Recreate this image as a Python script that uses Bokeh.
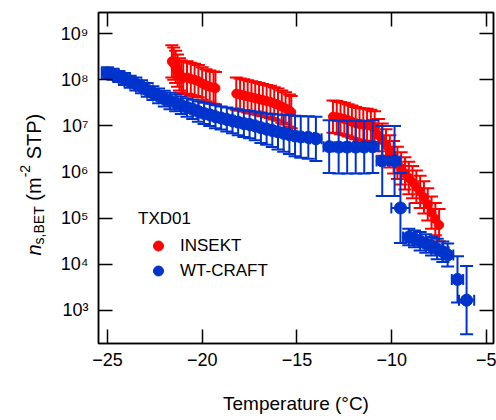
import math
import numpy as np
from bokeh.plotting import figure
from bokeh.layouts import row
from bokeh.models import (ColumnDataSource, Whisker, TeeHead, FixedTicker, LinearAxis, LogAxis,
                          CustomJSTickFormatter, Legend, LegendItem, Label, Range1d)
from bokeh.embed import file_html
from bokeh.resources import INLINE

FONT = "Liberation Sans"
RED = "#FF0000"
BLUE = "#0033CC"

# ---------------- data ----------------
insekt_T = [-21.6, -21.5, -21.4, -21.3, -21.2, -21.1, -21.0, -20.8, -20.6, -20.4, -20.2, -20.0,
            -19.8, -19.6, -19.4, -19.3,
            -18.2, -18.0, -17.8, -17.6, -17.4, -17.2, -17.0, -16.8, -16.6, -16.4, -16.2, -16.0,
            -15.8, -15.6, -15.4, -15.3,
            -13.1, -12.9, -12.7, -12.5, -12.3, -12.1, -11.9, -11.7, -11.5, -11.3, -11.1, -10.9,
            -10.7, -10.5, -10.3, -10.1, -9.9, -9.7, -9.5, -9.3, -9.1, -8.9, -8.7, -8.5, -8.3,
            -8.1, -7.9, -7.7, -7.5]
insekt_log_ns = [8.40, 8.35, 8.28, 8.20, 8.12, 8.07, 8.04, 8.05, 8.02, 8.00, 7.97, 7.92,
                 7.88, 7.85, 7.83, 7.82,
                 7.70, 7.68, 7.66, 7.64, 7.62, 7.60, 7.58, 7.56, 7.54, 7.52, 7.49, 7.46,
                 7.42, 7.38, 7.33, 7.30,
                 7.20, 7.19, 7.17, 7.15, 7.12, 7.09, 7.06, 7.04, 7.03, 7.02, 7.00, 6.97,
                 6.80, 6.70, 6.58, 6.45, 6.32, 6.20, 6.08, 5.97, 5.87, 5.78, 5.68, 5.57, 5.45,
                 5.30, 5.12, 4.98, 4.85]
insekt_log_err = [0.35] * 16 + [0.35] * 16 + [0.35] * 12 + [0.35] * 17

wtcraft_T = [-25.0, -24.7, -24.4, -24.1, -23.8, -23.5, -23.2, -22.9, -22.6, -22.3, -22.0, -21.7,
             -21.4, -21.1, -20.8, -20.5, -20.2, -19.9, -19.6, -19.3, -19.0, -18.7, -18.4, -18.1,
             -17.8, -17.5, -17.2, -16.9, -16.6, -16.3, -16.0, -15.7, -15.4, -15.1, -14.8, -14.4,
             -14.0, -13.3, -12.8, -12.35, -11.9, -11.45, -11.0, -10.5, -9.85, -9.54,
             -9.1, -8.8, -8.5, -8.2, -7.9, -7.6, -7.3, -7.05, -6.53, -6.05]
wtcraft_log_ns = [8.15, 8.12, 8.07, 8.02, 7.96, 7.91, 7.85, 7.78, 7.71, 7.65, 7.59, 7.54,
                  7.50, 7.45, 7.40, 7.36, 7.31, 7.27, 7.24, 7.20, 7.17, 7.14, 7.11, 7.08,
                  7.05, 7.03, 7.00, 6.96, 6.93, 6.90, 6.87, 6.84, 6.81, 6.78, 6.76, 6.75,
                  6.72, 6.55, 6.54, 6.54, 6.54, 6.54, 6.55, 6.24, 6.24, 5.22,
                  4.59, 4.55, 4.50, 4.45, 4.39, 4.33, 4.27, 4.20, 3.67, 3.22]
wtcraft_log_err = [0.12, 0.12, 0.12, 0.13, 0.13, 0.14, 0.14, 0.15, 0.15, 0.16, 0.17, 0.18,
                   0.18, 0.19, 0.20, 0.21, 0.22, 0.23, 0.24, 0.25, 0.25, 0.26, 0.27, 0.28,
                   0.29, 0.30, 0.31, 0.33, 0.34, 0.36, 0.38, 0.40, 0.42, 0.44, 0.45, 0.46,
                   0.48, 0.57, 0.57, 0.57, 0.57, 0.57, 0.57, 0.76, 0.76, 0.76,
                   0.18, 0.18, 0.20, 0.20, 0.20, 0.22, 0.22, 0.25, 0.50, 0.74]
wtcraft_T_err = [0.3] * 45 + [0.48] + [0.3] * 9 + [0.4]

x_ticks = [-25, -20, -15, -10, -5]
y_ticks = [1e3, 1e4, 1e5, 1e6, 1e7, 1e8, 1e9]
legend_title = "TXD01"
series_names = ["INSEKT", "WT-CRAFT"]

LABEL_W = 50  # width of the strip holding the y-axis title

# ---------------- main figure ----------------
p = figure(width=496 - LABEL_W, height=420, output_backend="svg", toolbar_location=None,
           y_axis_type="log", x_range=(-25.47, -4.63), y_range=(10 ** 2.28, 10 ** 9.46),
           min_border_left=98 - LABEL_W, min_border_right=3, min_border_top=12,
           min_border_bottom=77)
p.background_fill_color = "white"
p.border_fill_color = "white"
p.grid.visible = False
p.outline_line_color = "black"
p.outline_line_width = 1.5

sup_code = """
const sup = {'0':'\u2070','1':'\u00b9','2':'\u00b2','3':'\u00b3','4':'\u2074','5':'\u2075',
             '6':'\u2076','7':'\u2077','8':'\u2078','9':'\u2079','-':'\u207b'};
const e = Math.round(Math.log10(tick));
return '10' + String(e).split('').map(c => sup[c]).join('');
"""


def style_axis(ax):
    ax.axis_line_color = "black"
    ax.axis_line_width = 1.5
    ax.major_tick_in = 14
    ax.major_tick_out = 0
    ax.major_tick_line_width = 1.5
    ax.major_tick_line_color = "black"
    ax.minor_tick_line_color = None
    ax.major_label_text_font = FONT
    ax.major_label_text_color = "black"
    ax.major_label_text_font_size = "18px"


xax = p.xaxis[0]
xax.ticker = FixedTicker(ticks=x_ticks)
style_axis(xax)
xax.major_label_standoff = 9
xax.axis_label = "Temperature (\u00b0C)"
xax.axis_label_text_font = FONT
xax.axis_label_text_font_size = "19px"
xax.axis_label_text_font_style = "normal"
xax.axis_label_text_color = "black"
xax.axis_label_standoff = 24

yax = p.yaxis[0]
yax.ticker = FixedTicker(ticks=y_ticks)
yax.formatter = CustomJSTickFormatter(code=sup_code)
style_axis(yax)
yax.major_label_standoff = 10

top_ax = LinearAxis(ticker=FixedTicker(ticks=x_ticks))
style_axis(top_ax)
top_ax.major_label_text_font_size = "1px"
top_ax.major_label_text_alpha = 0
top_ax.major_label_standoff = 0
p.add_layout(top_ax, "above")
right_ax = LogAxis(ticker=FixedTicker(ticks=y_ticks))
style_axis(right_ax)
right_ax.major_label_text_font_size = "1px"
right_ax.major_label_text_alpha = 0
right_ax.major_label_standoff = 0
p.add_layout(right_ax, "right")

# ---------------- data sources ----------------
iT = np.array(insekt_T)
iL = np.array(insekt_log_ns)
iE = np.array(insekt_log_err)
src_i = ColumnDataSource(dict(x=iT, y=10 ** iL, lo=10 ** (iL - iE), hi=10 ** (iL + iE)))

wT = np.array(wtcraft_T)
wL = np.array(wtcraft_log_ns)
wE = np.array(wtcraft_log_err)
wTE = np.array(wtcraft_T_err)
src_w = ColumnDataSource(dict(x=wT, y=10 ** wL, lo=10 ** (wL - wE), hi=10 ** (wL + wE),
                              xlo=wT - wTE, xhi=wT + wTE))


def head(color, size):
    return TeeHead(size=size, line_color=color, line_width=2)


# INSEKT (drawn first, below)
r_i = p.scatter("x", "y", source=src_i, size=9, color=RED, line_color=RED, level="image")
w_i = Whisker(source=src_i, base="x", lower="lo", upper="hi", dimension="height",
              line_color=RED, line_width=2, level="image",
              upper_head=head(RED, 13), lower_head=head(RED, 13))
p.add_layout(w_i)

# WT-CRAFT on top
w_wy = Whisker(source=src_w, base="x", lower="lo", upper="hi", dimension="height",
               line_color=BLUE, line_width=2, level="underlay",
               upper_head=head(BLUE, 13), lower_head=head(BLUE, 13))
w_wx = Whisker(source=src_w, base="y", lower="xlo", upper="xhi", dimension="width",
               line_color=BLUE, line_width=2, level="underlay",
               upper_head=head(BLUE, 11), lower_head=head(BLUE, 11))
p.add_layout(w_wy)
p.add_layout(w_wx)
r_w = p.scatter("x", "y", source=src_w, size=12, color=BLUE, line_color=BLUE)

# ---------------- legend ----------------
legend = Legend(items=[LegendItem(label=series_names[0], renderers=[r_i]),
                       LegendItem(label=series_names[1], renderers=[r_w])],
                title=legend_title, location=(40, 60),
                glyph_width=40, glyph_height=25, spacing=0, padding=0, margin=0,
                label_standoff=2, title_standoff=4,
                label_text_font=FONT, label_text_font_size="17px", label_text_color="black",
                title_text_font=FONT, title_text_font_size="17px", title_text_font_style="normal",
                title_text_color="black",
                background_fill_alpha=0, border_line_color=None)
p.add_layout(legend)

# ---------------- y axis title strip (rich text built from pieces) ----------------
# the strip's frame is aligned with the main frame (top 12 px, bottom 343 px)
lab = figure(width=LABEL_W, height=420, output_backend="svg", toolbar_location=None,
             x_range=Range1d(0, 1), y_range=Range1d(0, 1),
             x_axis_location=None, y_axis_location=None,
             min_border_left=0, min_border_right=0, min_border_top=0, min_border_bottom=0)
lab.grid.visible = False
lab.outline_line_color = None
lab.background_fill_color = "white"
lab.border_fill_color = "white"

bx = 33
y0 = 343 - 255
# (text, font size, style, baseline shift, advance in em incl. following gap)
pieces = [("n", 20, "italic", 0, 0.556),
          ("s,BET", 14, "normal", 5, 2.723 + 0.4),
          ("(m", 20, "normal", 0, 1.166),
          ("-2", 14, "normal", -9, 0.889 + 0.4),
          ("STP)", 20, "normal", 0, 2.278)]
yy = y0
for txt, fs, style, dx, em in pieces:
    lab.add_layout(Label(x=bx + dx, y=yy, x_units="screen", y_units="screen", text=txt,
                         angle=math.pi / 2, text_font=FONT, text_font_size=f"{fs}px",
                         text_font_style=style, text_color="black",
                         text_align="left", text_baseline="alphabetic"))
    yy += em * fs

layout = row(lab, p, spacing=0)
open("out.html", "w").write(file_html(layout, INLINE))
